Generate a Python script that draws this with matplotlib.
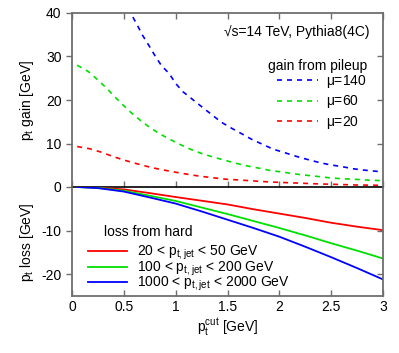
import matplotlib
matplotlib.use("Agg")
import matplotlib.pyplot as plt
from matplotlib.ticker import FormatStrFormatter

plt.rcParams["font.family"] = ["Liberation Sans", "DejaVu Sans"]
plt.rcParams["mathtext.fontset"] = "custom"
plt.rcParams["mathtext.rm"] = "Liberation Sans"
plt.rcParams["mathtext.default"] = "regular"
plt.rcParams["axes.unicode_minus"] = False
plt.rcParams["font.size"] = 10

# gain from pileup (dashed)
pt_mu140 = [0.5, 0.57, 0.63, 0.68, 0.74, 0.80, 0.86, 0.94, 1.00, 1.07, 1.17, 1.27, 1.35, 1.44, 1.54,
            1.64, 1.73, 1.83, 1.94, 2.05, 2.17, 2.26, 2.39, 2.49, 2.60, 2.71, 2.81, 2.94, 3.0]
gain_mu140 = [43.5, 39.8, 37.2, 34.9, 32.6, 30.2, 28.0, 26.0, 23.8, 21.9, 20.0, 18.1, 16.6, 14.9, 13.5,
              12.2, 11.0, 9.9, 8.7, 7.9, 7.0, 6.4, 5.6, 5.1, 4.7, 4.2, 3.9, 3.6, 3.5]

pt_mu60 = [0.05, 0.16, 0.25, 0.33, 0.41, 0.49, 0.57, 0.66, 0.75, 0.84, 0.94, 1.04, 1.14, 1.25, 1.36,
           1.48, 1.59, 1.70, 1.81, 1.91, 2.04, 2.15, 2.26, 2.38, 2.49, 2.60, 2.71, 2.84, 3.0]
gain_mu60 = [28.0, 26.5, 24.6, 22.8, 20.8, 18.9, 17.1, 15.3, 13.7, 12.3, 11.0, 9.8, 8.7, 7.7, 6.9,
             6.1, 5.4, 4.8, 4.3, 3.8, 3.4, 3.0, 2.7, 2.4, 2.1, 1.9, 1.8, 1.6, 1.45]

pt_mu20 = [0.05, 0.17, 0.29, 0.39, 0.50, 0.61, 0.72, 0.83, 0.94, 1.07, 1.20, 1.33, 1.48, 1.62, 1.75,
           1.91, 2.07, 2.23, 2.39, 2.55, 2.74, 2.94, 3.0]
gain_mu20 = [9.3, 8.8, 7.95, 7.05, 6.2, 5.45, 4.75, 4.15, 3.65, 3.1, 2.6, 2.2, 1.8, 1.6, 1.4,
             1.15, 1.0, 0.85, 0.7, 0.6, 0.46, 0.4, 0.38]

# loss from hard (solid)
pt_loss = [0.05, 0.25, 0.5, 0.75, 1.0, 1.25, 1.5, 1.75, 2.0, 2.25, 2.5, 2.75, 3.0]
loss_20_50 = [0, -0.15, -0.55, -1.4, -2.3, -3.15, -4.0, -5.1, -6.1, -7.1, -8.2, -9.1, -9.9]
loss_100_200 = [0, -0.2, -0.85, -2.0, -3.2, -4.7, -6.2, -7.8, -9.4, -11.1, -12.9, -14.6, -16.4]
loss_1000_2000 = [0, -0.25, -1.05, -2.4, -3.8, -5.6, -7.5, -9.4, -11.4, -13.7, -16.1, -18.6, -21.2]

red, green, blue = "#ff0000", "#00e000", "#0000ff"
frame = "#6e6e6e"

W, H = 399, 353
fig = plt.figure(figsize=(W / 100, H / 100), dpi=100)
left, right = 72 / W, 383 / W
top, mid, bot = 1 - 13 / H, 1 - 187 / H, 1 - 296 / H
ax1 = fig.add_axes([left, mid, right - left, top - mid])
ax2 = fig.add_axes([left, bot, right - left, mid - bot])

for ax in (ax1, ax2):
    ax.set_xlim(0, 3)
    ax.set_xticks([0, 0.5, 1, 1.5, 2, 2.5, 3])
    ax.xaxis.set_major_formatter(FormatStrFormatter("%g"))
    for s in ax.spines.values():
        s.set_color(frame)
        s.set_linewidth(1.3)
    ax.tick_params(axis="x", direction="in", length=4, color=frame, width=1, top=True, labelsize=10)
    ax.tick_params(axis="y", which="both", direction="out", length=4, color=frame, width=1,
                   right=False, labelsize=10)
    ax.patch.set_visible(False)

ax1.spines["bottom"].set_color("black")
ax1.spines["bottom"].set_linewidth(1.2)
ax2.spines["top"].set_visible(False)
ax1.tick_params(axis="x", labelbottom=False, bottom=True)
ax2.tick_params(axis="x", top=False, pad=3)

ax1.set_ylim(0, 40)
ax1.set_yticks([0, 10, 20, 30, 40])
ax2.set_ylim(-25, 0)
ax2.set_yticks([-20, -10])

# inward right-hand ticks
for ax, ticks in ((ax1, [10, 20, 30]), (ax2, [-20, -10])):
    sec = ax.secondary_yaxis("right")
    sec.set_yticks(ticks)
    sec.tick_params(direction="in", length=4, color=frame, width=1, labelright=False)
    sec.spines["right"].set_visible(False)

dash = (3, 3)
ax1.plot(pt_mu140, gain_mu140, color=blue, lw=1.2, dashes=dash, label=r"$\mu$=140")
ax1.plot(pt_mu60, gain_mu60, color=green, lw=1.2, dashes=dash, label=r"$\mu$=60")
ax1.plot(pt_mu20, gain_mu20, color=red, lw=1.2, dashes=dash, label=r"$\mu$=20")

ax2.plot(pt_loss, loss_20_50, color=red, lw=1.3, label=r"20 < p$_{t,jet}$ < 50 GeV")
ax2.plot(pt_loss, loss_100_200, color=green, lw=1.3, label=r"100 < p$_{t,jet}$ < 200 GeV")
ax2.plot(pt_loss, loss_1000_2000, color=blue, lw=1.3, label=r"1000 < p$_{t,jet}$ < 2000 GeV")

fig.text(370 / W, 1 - 32 / H, "\u221as=14 TeV, Pythia8(4C)", ha="right", va="center", fontsize=10)
fig.text(367 / W, 1 - 66 / H, "gain from pileup", ha="right", va="center", fontsize=10)
fig.text(148 / W, 1 - 232 / H, "loss from hard", ha="center", va="center", fontsize=10)

ax1.legend(frameon=False, loc="upper left",
           bbox_to_anchor=(277 / W, 1 - 73 / H), bbox_transform=fig.transFigure,
           handlelength=2.95, handletextpad=0.6, labelspacing=0.25, fontsize=10,
           borderpad=0, borderaxespad=0)

ax2.legend(frameon=False, loc="upper left",
           bbox_to_anchor=(88 / W, 1 - 244 / H), bbox_transform=fig.transFigure,
           handlelength=2.8, handletextpad=0.7, labelspacing=-0.2, fontsize=10,
           borderpad=0, borderaxespad=0)

fig.text(27 / W, 1 - 100 / H, r"p$_t$ gain [GeV]", rotation=90, ha="center", va="center", fontsize=10)
fig.text(27 / W, 1 - 242 / H, r"p$_t$ loss [GeV]", rotation=90, ha="center", va="center", fontsize=10)
fig.text(228 / W, 1 - 327 / H, r"p$_t^{cut}$ [GeV]", ha="center", va="center", fontsize=10)

fig.savefig("out.png", dpi=100)
